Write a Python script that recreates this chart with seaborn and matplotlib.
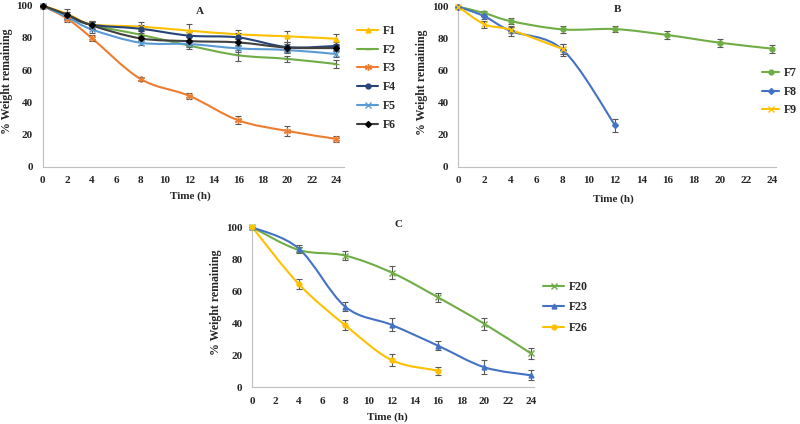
import numpy as np
import matplotlib
matplotlib.use("Agg")
import matplotlib.pyplot as plt
import seaborn as sns
from matplotlib.path import Path
from matplotlib.patches import PathPatch
from matplotlib.lines import Line2D

# ---------------- data ----------------
time_A = [0, 2, 4, 8, 12, 16, 20, 24]
F1 = [100, 95, 88.5, 87, 84.5, 82.2, 81, 79.5]
F2 = [100, 93, 88, 82, 75.2, 69.2, 67, 63.8]
F3 = [100, 92, 80, 54.5, 44, 28.8, 22.2, 17.3]
F4 = [100, 94, 88.2, 85.7, 81.4, 80.3, 74.3, 75]
F5 = [100, 93, 85.3, 77, 76.2, 73.5, 72.5, 70]
F6 = [100, 94.4, 87.8, 79.7, 78, 77.2, 74, 73.7]
F1_err = [0, 3, 2, 3, 4, 3, 3.5, 3]
F2_err = [0, 2, 2, 2, 2, 3.5, 2, 2.5]
F3_err = [0, 2, 2, 1, 2, 2.5, 3, 2]
F4_err = [0, 2, 2.5, 2.5, 2.5, 3, 3, 2.5]
F5_err = [0, 2, 2, 1.5, 2, 2, 2, 2]
F6_err = [0, 2, 2, 1.5, 2.5, 2, 2, 2]

time_B7 = [0, 2, 4, 8, 12, 16, 20, 24]
time_B8 = [0, 2, 4, 8, 12]
time_B9 = [0, 2, 4, 8]
F7 = [100, 96, 91, 85.8, 86, 82.3, 77.5, 73.8]
F8 = [100, 94, 84.8, 73, 25.8]
F9 = [100, 89, 85.5, 73.5]
F7_err = [0, 1.5, 2, 2, 2, 2.5, 2.5, 2.5]
F8_err = [0, 1.5, 3, 3.5, 4]
F9_err = [0, 2, 2, 3]

time_C20 = [0, 4, 8, 12, 16, 20, 24]
time_C23 = [0, 4, 8, 12, 16, 20, 24]
time_C26 = [0, 4, 8, 12, 16]
F20 = [100, 85.8, 82.3, 71.7, 56.2, 39.6, 21.2]
F23 = [100, 86.7, 50.4, 39, 26, 12.5, 7.5]
F26 = [100, 64.5, 38.8, 17, 10.4]
F20_err = [0, 2, 3, 4, 3, 4, 3.5]
F23_err = [0, 2, 3, 4, 3, 4.5, 3]
F26_err = [0, 3, 3, 3.5, 2.5]

x_ticks = list(range(0, 25, 2))
y_ticks = [0, 20, 40, 60, 80, 100]

# ---------------- style ----------------
sns.set_theme(style="white")
plt.rcParams['font.family'] = ['Liberation Serif', 'DejaVu Serif']
plt.rcParams['font.weight'] = 'bold'

GREEN = '#70AD47'
YELLOW = '#FFC000'
ORANGE = '#ED7D31'
DBLUE = '#264478'
LBLUE = '#5B9BD5'
BLUE = '#4472C4'
GRAY = '#595959'

fig = plt.figure(figsize=(8, 4.24), dpi=100)

def smooth_path(x, y):
    pts = np.column_stack([x, y]).astype(float)
    n = len(pts)
    verts = [pts[0]]
    codes = [Path.MOVETO]
    for i in range(n - 1):
        p0 = pts[i - 1] if i > 0 else pts[i]
        p1 = pts[i]
        p2 = pts[i + 1]
        p3 = pts[i + 2] if i + 2 < n else pts[i + 1]
        c1 = p1 + (p2 - p0) / 6.0
        c2 = p2 - (p3 - p1) / 6.0
        verts += [c1, c2, p2]
        codes += [Path.CURVE4] * 3
    return Path(verts, codes)

def draw_series(ax, t, y, err, color, marker, ms, line_color=None, mew=1.0):
    lc = line_color if line_color else color
    ax.add_patch(PathPatch(smooth_path(t, y), fill=False, edgecolor=lc,
                           lw=1.5, clip_on=False, zorder=2))
    ax.errorbar(t, y, yerr=err, fmt='none', ecolor=GRAY, elinewidth=0.8,
                capsize=2.2, capthick=0.8, clip_on=False, zorder=3)
    sns.lineplot(x=t, y=y, ax=ax, color=color, marker=marker, markersize=ms,
                 linestyle='', linewidth=0, markeredgecolor=color,
                 markerfacecolor=color, markeredgewidth=mew,
                 errorbar=None, sort=False, clip_on=False, zorder=4)

def style_axes(ax, xmax, ylab_x, xlab_x, xlab_y):
    ax.set_xlim(0, xmax)
    ax.set_ylim(0, 100)
    ax.set_xticks(x_ticks)
    ax.set_yticks(y_ticks)
    ax.set_xticklabels([str(v) for v in x_ticks], fontsize=8, fontweight='bold')
    ax.set_yticklabels([str(v) for v in y_ticks], fontsize=8, fontweight='bold')
    ax.tick_params(axis='both', length=0, pad=7)
    for s in ['top', 'right']:
        ax.spines[s].set_visible(False)
    for s in ['left', 'bottom']:
        ax.spines[s].set_color('#BFBFBF')
        ax.spines[s].set_linewidth(0.8)
    ax.set_xlabel('Time (h)', fontsize=8, fontweight='bold')
    ax.set_ylabel('% Weight remaining', fontsize=8.6, fontweight='bold')
    ax.yaxis.set_label_coords(ylab_x, 0.53)
    ax.xaxis.set_label_coords(xlab_x, xlab_y)
    ax.grid(False)
    ax.set_facecolor('none')

def make_legend(entries, anchor, spacing, hlen=1.8):
    handles = [Line2D([], [], color=c, marker=m, markersize=ms, lw=1.5,
                      markeredgecolor=mc, markerfacecolor=mc) for (lbl, c, mc, m, ms) in entries]
    labels = [e[0] for e in entries]
    leg = fig.legend(handles, labels, loc='upper left', bbox_to_anchor=anchor,
                     bbox_transform=fig.transFigure, frameon=False,
                     prop={'family': 'Liberation Serif', 'weight': 'bold', 'size': 8.5},
                     handlelength=hlen, handletextpad=0.4, labelspacing=spacing,
                     borderaxespad=0, borderpad=0)
    return leg

# ---------------- panel A ----------------
axA = fig.add_axes([0.0534, 0.6068, 0.376, 0.3797])
style_axes(axA, 24.6, -0.10, 0.49, -0.155)
draw_series(axA, time_A, F1, F1_err, YELLOW, '^', 3.5)
draw_series(axA, time_A, F2, F2_err, GREEN, '_', 4.5)
draw_series(axA, time_A, F3, F3_err, ORANGE, (6, 2, 0), 5)
draw_series(axA, time_A, F4, F4_err, DBLUE, 'o', 3.5)
draw_series(axA, time_A, F5, F5_err, LBLUE, 'x', 4)
draw_series(axA, time_A, F6, F6_err, 'black', 'D', 3, line_color='#404040')
axA.text(0.523, 0.965, 'A', transform=axA.transAxes, ha='center', va='center',
         fontsize=8, fontweight='bold')
make_legend([('F1', YELLOW, YELLOW, '^', 3.5), ('F2', GREEN, GREEN, '_', 4.5),
             ('F3', ORANGE, ORANGE, (6, 2, 0), 5), ('F4', DBLUE, DBLUE, 'o', 3.5),
             ('F5', LBLUE, LBLUE, 'x', 4), ('F6', '#404040', 'black', 'D', 3)],
            (357 / 800, 1 - 25 / 424), 0.57)

# ---------------- panel B ----------------
axB = fig.add_axes([0.5729, 0.6068, 0.397, 0.3774])
style_axes(axB, 24.3, -0.095, 0.487, -0.17)
draw_series(axB, time_B7, F7, F7_err, GREEN, 'o', 3.5)
draw_series(axB, time_B8, F8, F8_err, BLUE, 'D', 3)
draw_series(axB, time_B9, F9, F9_err, YELLOW, 'x', 4)
axB.text(0.5, 0.985, 'B', transform=axB.transAxes, ha='center', va='center',
         fontsize=8, fontweight='bold')
make_legend([('F7', GREEN, GREEN, 'o', 3.5), ('F8', BLUE, BLUE, 'D', 3),
             ('F9', YELLOW, YELLOW, 'x', 4)],
            (762 / 800, 1 - 67 / 424), 0.57, hlen=1.45)

# ---------------- panel C ----------------
axC = fig.add_axes([0.3154, 0.0866, 0.3525, 0.3774])
style_axes(axC, 24.3, -0.107, 0.48, -0.155)
draw_series(axC, time_C20, F20, F20_err, GREEN, 'x', 4)
draw_series(axC, time_C23, F23, F23_err, BLUE, '^', 3.5)
draw_series(axC, time_C26, F26, F26_err, YELLOW, 'o', 3.5)
axC.text(0.52, 1.02, 'C', transform=axC.transAxes, ha='center', va='center',
         fontsize=8, fontweight='bold')
make_legend([('F20', GREEN, GREEN, 'x', 4), ('F23', BLUE, BLUE, '^', 3.5),
             ('F26', YELLOW, YELLOW, 'o', 3.5)],
            (543 / 800, 1 - 281 / 424), 0.72)

fig.savefig('out.png', dpi=100)
